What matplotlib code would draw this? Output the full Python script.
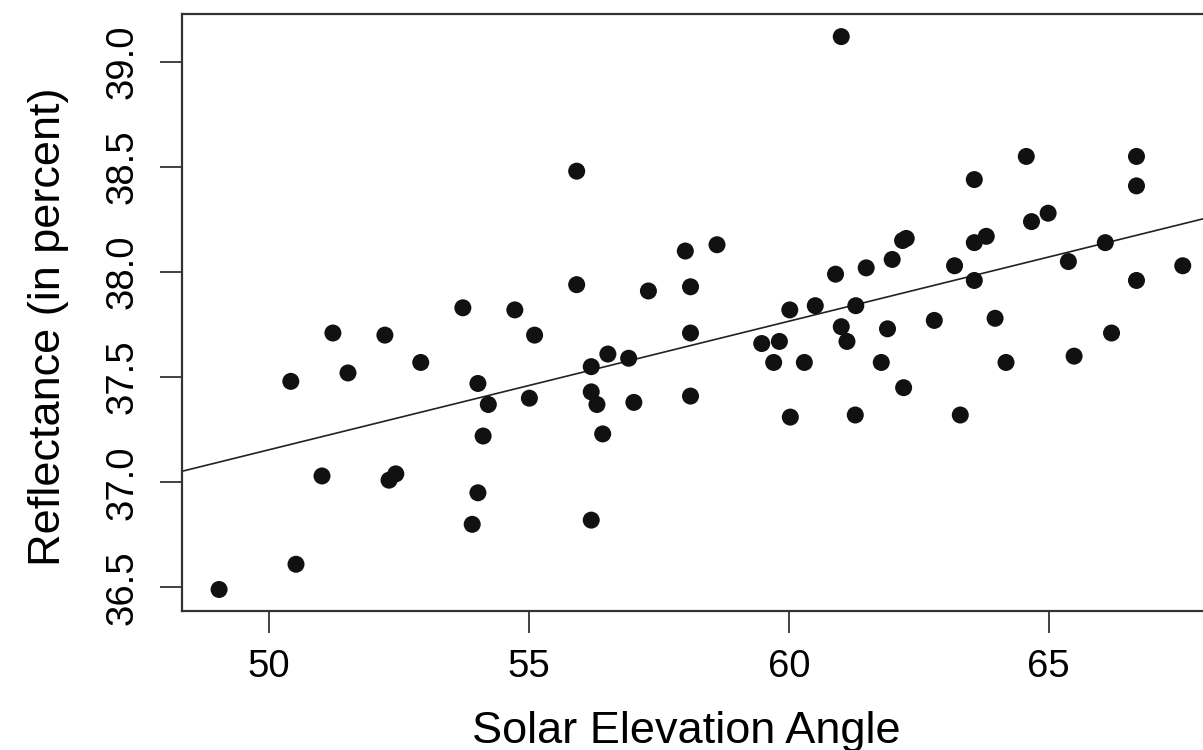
import numpy as np
import matplotlib
matplotlib.use('Agg')
import matplotlib.pyplot as plt

plt.rcParams['font.family'] = ['Liberation Sans', 'DejaVu Sans']

# solar elevation angle (degrees) and reflectance (percent)
angle = [49.04, 50.42, 50.52, 51.02, 51.23, 51.52, 52.23, 52.31, 52.44, 52.92,
         53.73, 54.02, 54.22, 54.12, 54.02, 53.91, 54.73, 55.01, 55.11, 55.92,
         55.92, 56.20, 56.20, 56.31, 56.42, 56.52, 56.20, 56.92, 57.02, 57.30,
         58.01, 58.11, 58.11, 58.11, 58.62, 59.48, 59.71, 59.82, 60.02, 60.03,
         60.30, 61.01, 60.51, 60.90, 61.01, 61.12, 61.29, 61.28, 61.49, 61.78,
         61.90, 61.99, 62.19, 62.21, 62.26, 62.80, 63.19, 63.30, 63.57, 63.57,
         63.57, 63.80, 63.97, 64.18, 64.57, 64.67, 64.99, 65.38, 65.49, 66.09,
         66.21, 66.69, 66.69, 66.69, 67.58]
reflectance = [36.49, 37.48, 36.61, 37.03, 37.71, 37.52, 37.70, 37.01, 37.04, 37.57,
               37.83, 37.47, 37.37, 37.22, 36.95, 36.80, 37.82, 37.40, 37.70, 38.48,
               37.94, 37.55, 37.43, 37.37, 37.23, 37.61, 36.82, 37.59, 37.38, 37.91,
               38.10, 37.93, 37.71, 37.41, 38.13, 37.66, 37.57, 37.67, 37.82, 37.31,
               37.57, 39.12, 37.84, 37.99, 37.74, 37.67, 37.84, 37.32, 38.02, 37.57,
               37.73, 38.06, 38.15, 37.45, 38.16, 37.77, 38.03, 37.32, 38.44, 38.14,
               37.96, 38.17, 37.78, 37.57, 38.55, 38.24, 38.28, 38.05, 37.60, 38.14,
               37.71, 38.55, 38.41, 37.96, 38.03]

x_ticks = [50, 55, 60, 65]
y_ticks = [36.5, 37.0, 37.5, 38.0, 38.5, 39.0]

fig = plt.figure(figsize=(12.03, 7.5), dpi=100)
ax = fig.add_axes([0.151, 0.186, 0.8637, 0.796])

ax.scatter(angle, reflectance, s=150, color='#111111', edgecolors='none', zorder=3)

# least squares line across the whole panel
slope, icpt = np.polyfit(angle, reflectance, 1)
ax.axline((0, icpt), slope=slope, color='#222222', lw=1.2, zorder=2)

ax.set_xlim(48.32, 68.31)
ax.set_ylim(36.39, 39.23)
ax.set_xticks(x_ticks)
ax.set_yticks(y_ticks)
ax.set_xticklabels([str(v) for v in x_ticks])
ax.set_yticklabels(['%.1f' % v for v in y_ticks], rotation=90, va='center')

for sp in ax.spines.values():
    sp.set_linewidth(1.6)
    sp.set_color('#333333')
ax.tick_params(length=16, width=1.3, color='#333333', labelsize=27.5)
ax.tick_params(axis='x', pad=11.5)
ax.tick_params(axis='y', pad=13.5)

ax.set_xlabel('Solar Elevation Angle', fontsize=32.5, va='top')
ax.set_ylabel('Reflectance (in percent)', fontsize=32.5)
ax.xaxis.set_label_coords(0.4854, -0.168)
ax.yaxis.set_label_coords(-0.1085, 0.4756)

fig.savefig('out.png', dpi=100)
